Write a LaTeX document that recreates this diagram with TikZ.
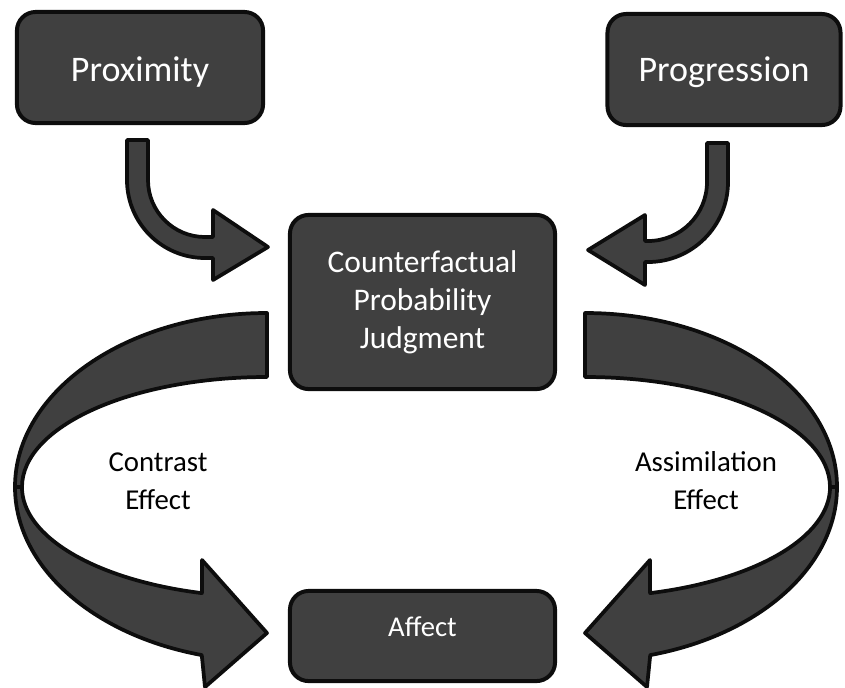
\documentclass[tikz,border=0pt]{standalone}
\usepackage{fontspec}
\setmainfont{Carlito}
\usetikzlibrary{positioning}

\definecolor{boxgray}{RGB}{64,64,64}
\definecolor{edgeblk}{RGB}{13,13,13}

\tikzset{
  block/.style={draw=edgeblk, line width=3pt, fill=boxgray, rounded corners=14pt,
    text=white, align=center, inner sep=0pt},
  blockarrow/.style={draw=edgeblk, line width=2.8pt, fill=boxgray, line join=round},
  effectlabel/.style={align=center, inner sep=0pt, font=\fontsize{21.6}{28.5}\selectfont}
}

\begin{document}
\begin{tikzpicture}[x=0.75pt,y=0.75pt,yscale=-1,xscale=1]
	\useasboundingbox (0,0) rectangle (845,687);
	% small bent arrows into the judgment box
	\draw [blockarrow] (127,140) -- (127,180) arc [start angle=180, end angle=90, radius=78] -- (213,258) -- (213,280) -- (268,247) -- (213,210) -- (213,237) -- (205,237) arc [start angle=90, end angle=180, radius=57] -- (148,140) -- cycle ;
	\draw [blockarrow] (728,143) -- (728,182) arc [start angle=0, end angle=90, radius=80] -- (645,262) -- (645,285) -- (588,250) -- (645,215) -- (645,241) -- (648,241) arc [start angle=90, end angle=0, radius=59] -- (707,143) -- cycle ;
	% left big arrow, back band then front band
	\draw [blockarrow] (267,313) arc [start angle=270, end angle=180, x radius=252, y radius=174] -- (22,487) arc [start angle=180, end angle=270, x radius=245, y radius=110] -- cycle ;
	\draw [blockarrow] (15,487) arc [start angle=180, end angle=105, x radius=252, y radius=174] -- (205,687) -- (267,633) -- (202,560) -- (201.9,593.1) arc [start angle=105.4, end angle=180, x radius=245, y radius=110] -- cycle ;
	% right big arrow
	\draw [blockarrow] (585,313) arc [start angle=270, end angle=360, x radius=252, y radius=174] -- (830,487) arc [start angle=0, end angle=-90, x radius=245, y radius=110] -- cycle ;
	\draw [blockarrow] (837,487) arc [start angle=0, end angle=75, x radius=252, y radius=174] -- (647,687) -- (585,633) -- (650,560) -- (650.1,593.1) arc [start angle=74.6, end angle=0, x radius=245, y radius=110] -- cycle ;
	% boxes
	\node [block, minimum width=184.6pt, minimum height=83.3pt, text height=20.25pt, text depth=0pt, font=\fontsize{27}{32}\selectfont] (prox) at (140,67.5) {Proximity};
	\node [block, minimum width=174.8pt, minimum height=83.3pt, text height=18pt, text depth=0pt, font=\fontsize{27}{32}\selectfont] (prog) at (724,69.5) {Progression};
	\node [block, minimum width=198.8pt, minimum height=130.6pt, font=\fontsize{23.6}{28.5}\selectfont] (cpj) at (422.5,302) {Counterfactual\\Probability\\Judgment};
	\node [block, minimum width=198.8pt, minimum height=67.6pt, text height=15pt, text depth=15pt, font=\fontsize{21.5}{26}\selectfont] (aff) at (422.5,636) {Affect};
	% labels on the big arrows
	\node [effectlabel] (contrast) at (158,481) {Contrast\\Effect};
	\node [effectlabel] (assim) at (706,481) {Assimilation\\Effect};
\end{tikzpicture}
\end{document}
